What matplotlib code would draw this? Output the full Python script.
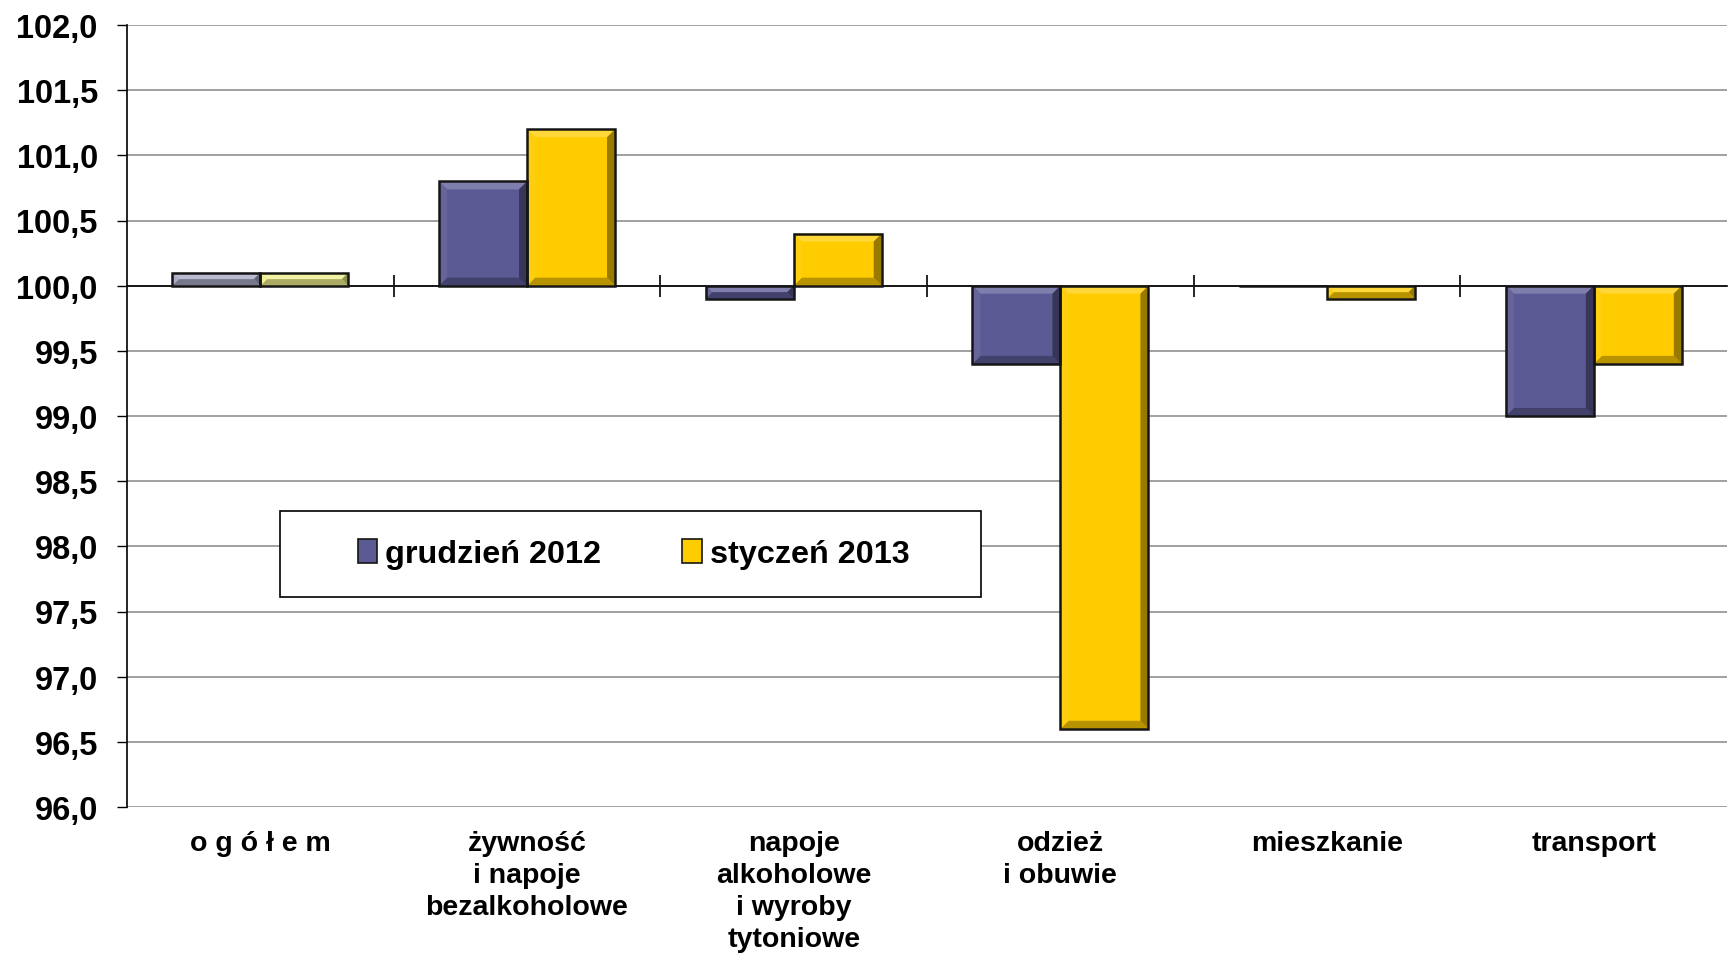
import matplotlib
matplotlib.use("Agg")
import matplotlib.pyplot as plt
import numpy as np
from matplotlib.ticker import FixedLocator, FuncFormatter
from matplotlib.patches import Polygon, Rectangle
from matplotlib.transforms import IdentityTransform
import matplotlib.transforms as mtransforms

plt.rcParams['font.family'] = ['Liberation Sans', 'DejaVu Sans']

categories = ["o g ó ł e m", "żywność\ni napoje\nbezalkoholowe",
              "napoje\nalkoholowe\ni wyroby\ntytoniowe", "odzież\ni obuwie",
              "mieszkanie", "transport"]
series_names = ["grudzień 2012", "styczeń 2013"]
dec2012 = [100.1, 100.8, 99.9, 99.4, 100.0, 99.0]
jan2013 = [100.1, 101.2, 100.4, 96.6, 99.9, 99.4]
yticks = [96.0, 96.5, 97.0, 97.5, 98.0, 98.5, 99.0, 99.5, 100.0, 100.5, 101.0, 101.5, 102.0]

base = 100.0
col_blue = "#5c5a94"
col_yellow = "#ffcc00"
col_blue_hl = "#a6a7c4"
col_yellow_hl = "#eeee8c"

fig = plt.figure(figsize=(17.28, 9.54), dpi=100)
ax = fig.add_axes([127/1728, 1-808/954, 1-127/1728-0.0005, (808-26)/954])

x = np.arange(len(categories))
w = 0.33
c1 = [col_blue_hl] + [col_blue]*(len(x)-1)
c2 = [col_yellow_hl] + [col_yellow]*(len(x)-1)
h1 = np.array(dec2012) - base
h2 = np.array(jan2013) - base
b1 = ax.bar(x - w/2, h1, w, bottom=base, color=c1, edgecolor='none', zorder=3, label=series_names[0])
b2 = ax.bar(x + w/2, h2, w, bottom=base, color=c2, edgecolor='none', zorder=3, label=series_names[1])
ax.bar(x - w/2, h1, w, bottom=base, fill=False, edgecolor="#151515", linewidth=1.8, zorder=3.6)
ax.bar(x + w/2, h2, w, bottom=base, fill=False, edgecolor="#151515", linewidth=1.8, zorder=3.6)

ax.set_xlim(-0.5, len(x)-0.5)
ax.set_ylim(yticks[0], yticks[-1])
ax.yaxis.set_major_locator(FixedLocator(yticks))
ax.yaxis.set_major_formatter(FuncFormatter(lambda v, p: f"{v:.1f}".replace(".", ",")))
ax.tick_params(axis='y', direction='out', length=7, width=1, labelsize=23.5, pad=14, color='black')
for lab in ax.get_yticklabels():
    lab.set_fontweight('bold')
ax.grid(axis='y', color='#999999', linewidth=1.3, zorder=0)

for s in ['top', 'right']:
    ax.spines[s].set_visible(False)
ax.spines['left'].set_color('black')
ax.spines['left'].set_linewidth(1.2)
ax.spines['bottom'].set_position(('data', base))
ax.spines['bottom'].set_color('black')
ax.spines['bottom'].set_linewidth(1.2)
ax.spines['bottom'].set_zorder(2.5)
ax.set_xticks([])
ax.xaxis.set_minor_locator(FixedLocator(np.arange(0.5, len(x)-0.5, 1.0)))
ax.tick_params(axis='x', which='minor', direction='inout', length=16, width=1.2, color='black')

trans = mtransforms.blended_transform_factory(ax.transData, ax.transAxes)
for i, c in enumerate(categories):
    ax.text(i, -0.029, c, transform=trans, ha='center', va='top', fontsize=20.5,
            fontweight='bold', linespacing=1.31)

# bevel effect
def mix(c, other, t):
    a = np.array(matplotlib.colors.to_rgb(c)); b = np.array(matplotlib.colors.to_rgb(other))
    return tuple(a*(1-t) + b*t)

fig.canvas.draw()
bev = 8.0
for bars in (b1, b2):
    for p in bars:
        fc = p.get_facecolor()
        (x0, y0), (x1, y1) = ax.transData.transform([(p.get_x(), p.get_y()),
                                                    (p.get_x()+p.get_width(), p.get_y()+p.get_height())])
        y0, y1 = min(y0, y1), max(y0, y1)
        b = min(bev, (y1-y0)/2, (x1-x0)/2)
        if b <= 0.5:
            continue
        polys = [
            ([(x0, y1), (x1, y1), (x1-b, y1-b), (x0+b, y1-b)], mix(fc, 'white', 0.22)),
            ([(x0, y0), (x1, y0), (x1-b, y0+b), (x0+b, y0+b)], mix(fc, 'black', 0.28)),
            ([(x0, y0), (x0+b, y0+b), (x0+b, y1-b), (x0, y1)], mix(fc, 'white', 0.06)),
            ([(x1, y0), (x1-b, y0+b), (x1-b, y1-b), (x1, y1)], mix(fc, 'black', 0.40)),
        ]
        for pts, col in polys:
            ax.add_artist(Polygon(pts, closed=True, facecolor=col, edgecolor='none',
                                  transform=IdentityTransform(), zorder=3.3))

# legend with framed box
ax.add_patch(Rectangle((0.0956, 0.2685), 0.438, 0.11, transform=ax.transAxes, facecolor='white',
                       edgecolor='black', linewidth=1.2, zorder=5))
handles = [Rectangle((0, 0), 1, 1, facecolor=col_blue, edgecolor='#151515', linewidth=1.2),
           Rectangle((0, 0), 1, 1, facecolor=col_yellow, edgecolor='#151515', linewidth=1.2)]
leg = ax.legend(handles, series_names, loc='center', bbox_to_anchor=(0.3167, 0.3235),
                ncol=2, frameon=False, prop={'weight': 'bold', 'size': 23.3},
                handlelength=0.6, handleheight=0.75, handletextpad=0.25, columnspacing=2.5)
leg.set_zorder(6)

fig.savefig("out.png", dpi=100, facecolor='white')
